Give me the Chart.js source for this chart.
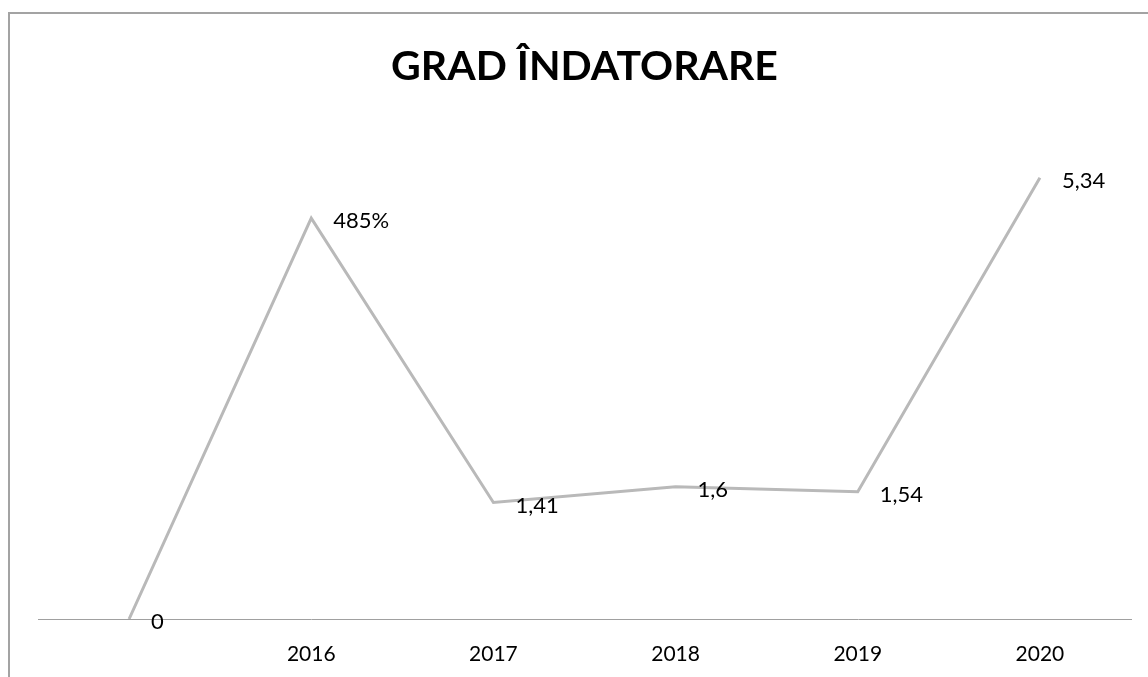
<!DOCTYPE html>
<html>
<head>
<meta charset="utf-8">
<script src="https://cdn.jsdelivr.net/npm/chart.js@4"></script>
<style>
  html, body { margin: 0; padding: 0; background: #fff; }
  #wrap { width: 1148px; height: 677px; }
</style>
</head>
<body>
<div id="wrap"><canvas id="myChart" width="1148" height="677"></canvas></div>
<script>
const labels = ['', '2016', '2017', '2018', '2019', '2020'];
const values = [0, 4.85, 1.41, 1.6, 1.54, 5.34];
const valueLabels = ['0', '485%', '1,41', '1,6', '1,54', '5,34'];

// outer frame of the chart (cut off on the right and bottom)
const framePlugin = {
    id: 'frame',
    beforeDraw(chart) {
        const ctx = chart.ctx;
        ctx.save();
        ctx.strokeStyle = '#a3a3a3';
        ctx.lineWidth = 2;
        ctx.beginPath();
        ctx.moveTo(9, chart.height);
        ctx.lineTo(9, 13);
        ctx.lineTo(chart.width, 13);
        ctx.stroke();
        ctx.restore();
    }
};

// value labels to the right of each point
const valueLabelPlugin = {
    id: 'valueLabels',
    afterDatasetsDraw(chart) {
        const ctx = chart.ctx;
        const meta = chart.getDatasetMeta(0);
        ctx.save();
        ctx.font = '22px Lato';
        ctx.fillStyle = '#000';
        ctx.textAlign = 'left';
        ctx.textBaseline = 'middle';
        meta.data.forEach((pt, i) => {
            ctx.fillText(valueLabels[i], pt.x + 22, pt.y + 3);
        });
        ctx.restore();
    }
};

const data = {
    labels: labels,
    datasets: [{
        label: 'Grad îndatorare',
        data: values,
        borderColor: '#b9b9b9',
        borderWidth: 3,
        pointRadius: 0,
        tension: 0,
        fill: false
    }]
};

const config = {
    type: 'line',
    data,
    options: {
        responsive: false,
        animation: false,
        layout: { padding: { left: 38, right: 17, top: 0, bottom: 0 } },
        plugins: {
            legend: { display: false },
            tooltip: { enabled: false },
            title: {
                display: true,
                text: 'GRAD ÎNDATORARE',
                color: '#000',
                font: { family: 'Lato', size: 41, weight: 'bold' },
                padding: { top: 42, bottom: 32 }
            }
        },
        scales: {
            x: {
                offset: true,
                grid: { display: false, drawTicks: false },
                border: { display: true, color: '#a0a0a0', width: 1 },
                ticks: {
                    color: '#000',
                    font: { family: 'Lato', size: 21 },
                    padding: 23,
                    maxRotation: 0
                },
                afterFit(scale) { scale.height = 58; }
            },
            y: {
                display: false,
                min: 0,
                max: 6
            }
        }
    },
    plugins: [framePlugin, valueLabelPlugin]
};

new Chart(document.getElementById('myChart'), config);
</script>
</body>
</html>
